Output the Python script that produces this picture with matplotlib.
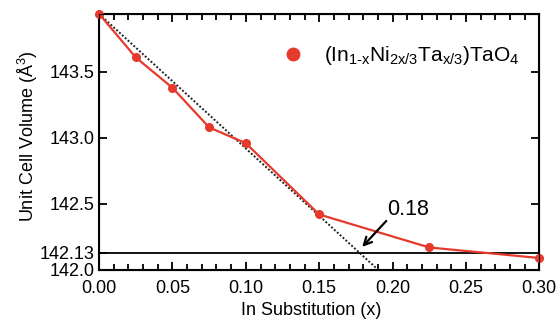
import matplotlib
matplotlib.use('Agg')
import matplotlib.pyplot as plt
import numpy as np

plt.rcParams['font.family'] = ['Liberation Sans', 'DejaVu Sans']
plt.rcParams['mathtext.fontset'] = 'custom'
plt.rcParams['mathtext.rm'] = 'Liberation Sans'
plt.rcParams['mathtext.it'] = 'Liberation Sans'

# data
x = [0.0, 0.025, 0.05, 0.075, 0.10, 0.15, 0.225, 0.30]
vol = [143.94, 143.61, 143.38, 143.08, 142.96, 142.42, 142.17, 142.09]

# linear fit of the dilute region
fit_x = [0.0, 0.19]
fit_a = 143.94
fit_b = -10.2

v_limit = 142.13
x_limit = 0.18

yticks = [142.0, 142.13, 142.5, 143.0, 143.5]
yticklabels = ['142.0', '142.13', '142.5', '143.0', '143.5']
xticks = [0.0, 0.05, 0.10, 0.15, 0.20, 0.25, 0.30]

red = '#e53a2c'

fig = plt.figure(figsize=(5.6, 3.24), dpi=100)
ax = fig.add_axes([0.177, 0.167, 0.786, 0.790])

fx = np.array(fit_x)
ax.plot(fx, fit_a + fit_b * fx, ls=(0, (1, 1)), color='#222222', lw=1.4, zorder=2)
ax.axhline(v_limit, color='black', lw=1.3, zorder=2)
ax.plot(x, vol, '-o', color=red, lw=1.6, ms=5.5, zorder=3, clip_on=False)
ax.plot([], [], 'o', color=red, ms=9,
        label=r'(In$_{1\text{-}x}$Ni$_{2x/3}$Ta$_{x/3}$)TaO$_4$')

# arrow pointing at the intersection, label above it
ax.annotate('', xy=(0.1793, 142.174), xytext=(0.1957, 142.371),
            arrowprops=dict(arrowstyle='->', color='black', lw=1.6,
                            shrinkA=0, shrinkB=0, mutation_scale=14))
ax.text(0.2107, 142.455, f'{x_limit:.2f}', fontsize=15.5, ha='center', va='center')

ax.set_xlim(0.0, 0.30)
ax.set_ylim(142.0, 143.94)
ax.set_xticks(xticks)
ax.set_xticks(np.arange(0, 0.301, 0.01), minor=True)
ax.set_yticks(yticks)
ax.set_yticklabels(yticklabels)
ax.xaxis.set_major_formatter(matplotlib.ticker.FormatStrFormatter('%.2f'))

ax.tick_params(axis='x', which='both', direction='in', top=True, labelsize=13, pad=7)
ax.tick_params(axis='x', which='major', length=6, width=1.3)
ax.tick_params(axis='x', which='minor', length=4, width=1.3)
ax.tick_params(axis='y', which='major', direction='in', length=6, width=1.3,
               labelsize=13, pad=3)
for sp in ax.spines.values():
    sp.set_linewidth(1.5)

ax2 = ax.twinx()
ax2.set_ylim(ax.get_ylim())
ax2.set_yticks([142.5, 143.0, 143.5])
ax2.tick_params(axis='y', direction='in', length=6, width=1.3, labelright=False)

ax.set_xlabel('In Substitution (x)', fontsize=13)
ax.xaxis.set_label_coords(0.482, -0.127)
ax.xaxis.label.set_va('top')
ax.set_ylabel(r'Unit Cell Volume ($\mathrm{\AA}^3$)', fontsize=13)
ax.yaxis.set_label_coords(-0.135, 0.523)

ax.legend(loc='upper right', frameon=False, fontsize=15, handletextpad=0.5,
          bbox_to_anchor=(0.988, 0.94), borderaxespad=0.3)

fig.savefig('out.png', dpi=100)
